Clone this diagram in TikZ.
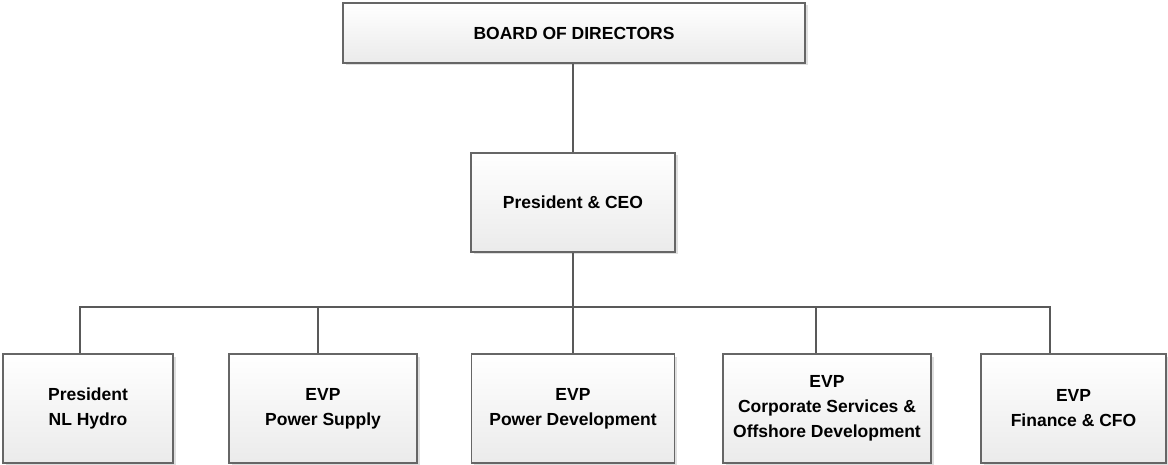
\documentclass[tikz,border=0pt]{standalone}
\usepackage{fontspec}
\setmainfont{Liberation Sans}
\usetikzlibrary{shadows}
\tikzset{
  orgbox/.style={draw=black!60, line width=1.2pt, top color=white, bottom color=black!8,
    drop shadow={shadow xshift=2.5pt, shadow yshift=-2.5pt, opacity=0.25},
    align=center, inner sep=0pt, font=\bfseries\fontsize{17.5}{25}\selectfont},
  conn/.style={draw=black!65, line width=1.3pt}
}

\begin{document}
\begin{tikzpicture}[x=1pt, y=-1pt]
			%%%%% START %%%%%
			\useasboundingbox (0, 0) rectangle (1168, 465);
			
			\node[orgbox, minimum width=462, minimum height=60] (board) at (574, 33) {BOARD OF DIRECTORS};
			\node[orgbox, minimum width=204, minimum height=99] (ceo) at (573, 202.5) {President \& CEO};
			
			\node[orgbox, minimum width=170, minimum height=109] (hydro) at (88, 408.5) {President\\NL Hydro};
			\node[orgbox, minimum width=188, minimum height=109] (supply) at (323, 408.5) {EVP\\Power Supply};
			\node[orgbox, minimum width=203, minimum height=109] (develop) at (573, 408.5) {EVP\\Power Development};
			\node[orgbox, minimum width=208, minimum height=109] (corp) at (827, 408.5) {EVP\\Corporate Services \&\\Offshore Development};
			\node[orgbox, minimum width=185, minimum height=109] (cfo) at (1073.5, 408.5) {EVP\\Finance \& CFO};
			
			\coordinate (bus) at (573, 307);
			
			\draw[conn] (ceo.north |- board.south) -- (ceo.north);
			\draw[conn] (ceo.south) -- (bus);
			\foreach \unit/\off in {hydro/-8, supply/-5, develop/0, corp/-11, cfo/-23.5}
				\draw[conn] ([xshift=\off pt]\unit.north) |- (bus);
			
			%%%%% END %%%%%
\end{tikzpicture}
\end{document}
